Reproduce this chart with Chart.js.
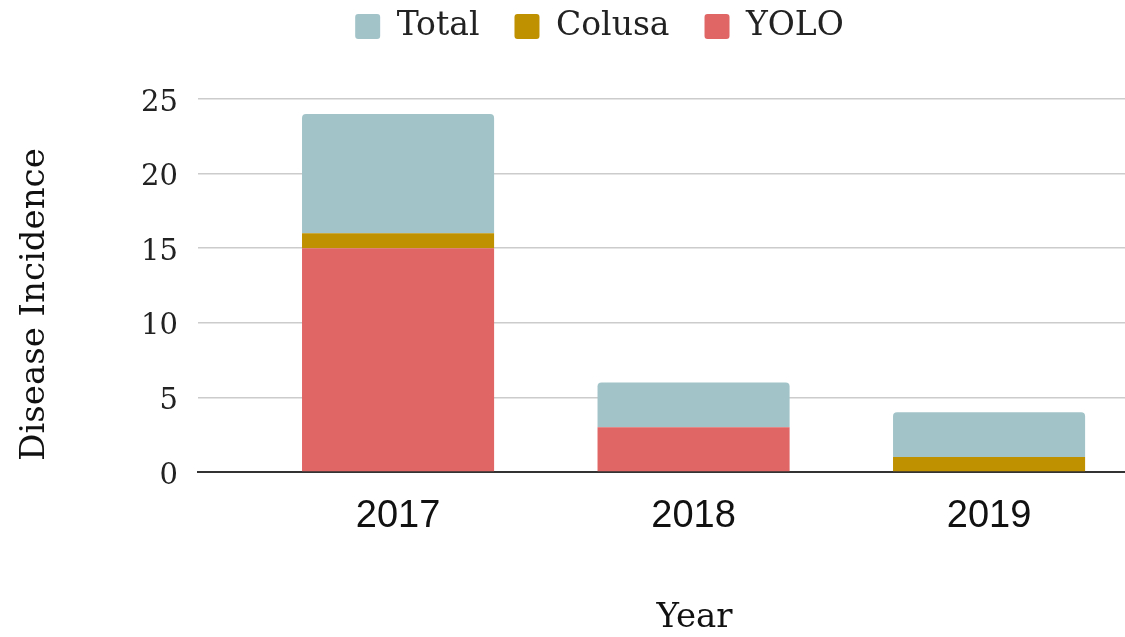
<!DOCTYPE html>
<html>
<head>
<meta charset="utf-8">
<title>Disease Incidence by Year</title>
<script src="https://cdn.jsdelivr.net/npm/chart.js@4.4.1/dist/chart.umd.min.js"></script>
<style>
  html, body { margin: 0; padding: 0; background: #fff; }
  #wrap { width: 1125px; height: 637px; position: relative; }
</style>
</head>
<body>
<div id="wrap"><canvas id="incidenceChart"></canvas></div>
<script>
// Incidence counts per year, stacked bottom-up: YOLO, Colusa, Total
const years = [2017, 2018, 2019];
const yolo = [15, 3, 0];
const colusa = [1, 0, 1];
const total = [8, 3, 3];
const yTicks = [0, 5, 10, 15, 20, 25];

const serif = 'DejaVu Serif, Georgia, serif';
const sans = 'Liberation Sans, Arial, sans-serif';

function toPoints(values) {
    return years.map((year, i) => ({ x: year, y: values[i] }));
}

// Draw an axis title offset from the middle of its scale
function offsetTitle(scale, dx, dy) {
    if (scale._titleOffset) return;
    scale._titleOffset = true;
    const drawTitle = scale.drawTitle;
    scale.drawTitle = function(...args) {
        this.left += dx; this.right += dx;
        this.top += dy; this.bottom += dy;
        drawTitle.apply(this, args);
        this.left -= dx; this.right -= dx;
        this.top -= dy; this.bottom -= dy;
    };
}

// Legend sits a bit right of the canvas centre, with a gap above the plot
const placement = {
    id: 'placement',
    beforeInit(chart) {
        if (!chart.legend) return;
        const fit = chart.legend.fit;
        chart.legend.fit = function() {
            fit.call(this);
            this.height += 46;
        };
    },
    afterLayout(chart) {
        if (chart.legend) {
            chart.legend.left += 37;
            chart.legend.right += 37;
        }
        offsetTitle(chart.scales.x, 33, 0);
        offsetTitle(chart.scales.y, 0, 19);
    }
};

const ctx = document.getElementById('incidenceChart').getContext('2d');
new Chart(ctx, {
    type: 'bar',
    data: {
        datasets: [
            {
                label: 'YOLO',
                data: toPoints(yolo),
                backgroundColor: '#e06666'
            },
            {
                label: 'Colusa',
                data: toPoints(colusa),
                backgroundColor: '#bf9000'
            },
            {
                label: 'Total',
                data: toPoints(total),
                backgroundColor: '#a2c4c9',
                borderRadius: { topLeft: 4, topRight: 4, bottomLeft: 0, bottomRight: 0 },
                borderSkipped: false
            }
        ]
    },
    options: {
        responsive: true,
        maintainAspectRatio: false,
        animation: false,
        categoryPercentage: 1,
        barPercentage: 0.65,
        layout: { padding: { top: -25, left: 0, right: 0, bottom: 0 } },
        plugins: {
            tooltip: { enabled: false },
            legend: {
                position: 'top',
                reverse: true,
                labels: {
                    color: '#222',
                    font: { family: serif, size: 33 },
                    boxWidth: 25,
                    boxHeight: 25,
                    useBorderRadius: true,
                    borderRadius: 3,
                    padding: 35
                }
            }
        },
        scales: {
            x: {
                type: 'linear',
                stacked: true,
                offset: false,
                min: 2016.323,
                max: 2019.46,
                z: 1,
                afterBuildTicks: scale => {
                    scale.ticks = years.map(v => ({ value: v }));
                },
                afterFit: scale => { scale.height = 165; },
                grid: { display: false, drawTicks: false },
                border: { display: true, color: '#333', width: 2 },
                ticks: {
                    color: '#111',
                    font: { family: sans, size: 38 },
                    padding: 22,
                    callback: v => String(v)
                },
                title: {
                    display: true,
                    text: 'Year',
                    color: '#111',
                    font: { family: serif, size: 34 },
                    padding: { top: 0, bottom: -2 }
                }
            },
            y: {
                stacked: true,
                min: 0,
                max: 25,
                afterBuildTicks: scale => {
                    scale.ticks = yTicks.map(v => ({ value: v }));
                },
                afterFit: scale => { scale.width = 198; },
                grid: { color: '#cccccc', lineWidth: 1.5, drawTicks: false },
                border: { display: false },
                ticks: {
                    color: '#222',
                    font: { family: serif, size: 29 },
                    padding: 20,
                    labelOffset: 4
                },
                title: {
                    display: true,
                    text: 'Disease Incidence',
                    color: '#111',
                    font: { family: serif, size: 34 },
                    padding: { top: 15, bottom: 0 }
                }
            }
        }
    },
    plugins: [placement]
});
</script>
</body>
</html>
